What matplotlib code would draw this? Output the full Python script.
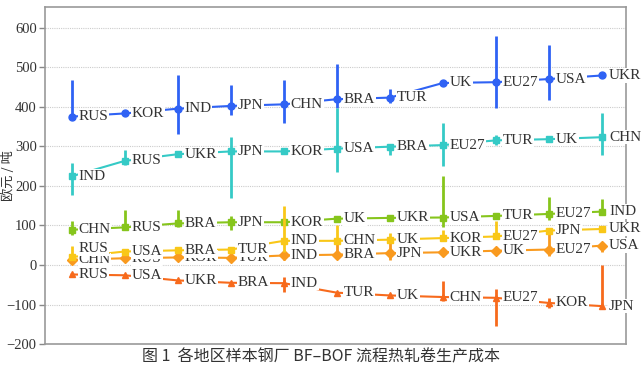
import matplotlib
matplotlib.use("Agg")
import matplotlib.pyplot as plt
import numpy as np

# ---------------- data ----------------
blue_labels = ["RUS", "KOR", "IND", "JPN", "CHN", "BRA", "TUR", "UK", "EU27", "USA", "UKR"]
blue_val = [375, 383, 395, 402, 406, 419, 423, 460, 462, 470, 479]
blue_lo = [375, 378, 331, 380, 360, 397, 410, 460, 396, 417, 479]
blue_hi = [468, 386, 481, 455, 468, 508, 445, 460, 579, 555, 479]

teal_labels = ["IND", "RUS", "UKR", "JPN", "KOR", "USA", "BRA", "EU27", "TUR", "UK", "CHN"]
teal_val = [224, 263, 280, 287, 287, 294, 299, 303, 315, 318, 323]
teal_lo = [177, 253, 280, 169, 287, 236, 278, 251, 304, 318, 278]
teal_hi = [257, 291, 280, 323, 287, 397, 299, 359, 329, 318, 384]

green_labels = ["CHN", "RUS", "BRA", "JPN", "KOR", "UK", "UKR", "USA", "TUR", "EU27", "IND"]
green_val = [89, 95, 105, 108, 108, 117, 119, 120, 124, 129, 135]
green_lo = [77, 95, 97, 89, 108, 117, 119, 97, 124, 114, 131]
green_hi = [110, 140, 140, 123, 108, 117, 119, 224, 124, 173, 167]

orange_labels = ["CHN", "RUS", "KOR", "TUR", "IND", "BRA", "JPN", "UKR", "UK", "EU27", "USA"]
orange_val = [13, 17, 19, 18, 24, 26, 30, 32, 36, 39, 49]
orange_lo = [10, 14, 16, 15, 13, 15, 13, 30, 33, 23, 34]
orange_hi = [16, 21, 22, 21, 34, 61, 64, 35, 39, 85, 57]

yellow_labels = ["RUS", "USA", "BRA", "TUR", "IND", "CHN", "UK", "KOR", "EU27", "JPN", "UKR"]
yellow_val = [20, 34, 37, 39, 61, 61, 64, 68, 72, 87, 91]
yellow_lo = [20, 28, 35, 37, 34, 61, 64, 68, 68, 87, 91]
yellow_hi = [49, 40, 40, 41, 150, 102, 81, 89, 110, 87, 91]

red_labels = ["RUS", "USA", "UKR", "BRA", "IND", "TUR", "UK", "CHN", "EU27", "KOR", "JPN"]
red_val = [-24, -26, -39, -45, -46, -70, -77, -81, -83, -96, -104]
red_lo = [-29, -30, -41, -47, -69, -72, -79, -92, -153, -108, -104]
red_hi = [-20, -22, -37, -43, -30, -68, -75, -41, -61, -83, 0]

y_ticks = [-200, -100, 0, 100, 200, 300, 400, 500, 600]
y_label = "欧元 / 吨"
caption = "图 1  各地区样本钢厂 BF–BOF 流程热轧卷生产成本"

# ---------------- style ----------------
series = [
    (blue_labels, blue_val, blue_lo, blue_hi, "#2f62f4", "o", {}),
    (teal_labels, teal_val, teal_lo, teal_hi, "#35cac6", "s", {}),
    (green_labels, green_val, green_lo, green_hi, "#86c51c", "s", {}),
    (orange_labels, orange_val, orange_lo, orange_hi, "#f99a1f", "D", {}),
    (yellow_labels, yellow_val, yellow_lo, yellow_hi, "#f9c718", "s", {0: 6}),
    (red_labels, red_val, red_lo, red_hi, "#f76a1c", "^", {}),
]

plt.rcParams['font.family'] = ['Liberation Serif', 'Noto Sans CJK SC']

fig = plt.figure(figsize=(6.43, 3.70), dpi=100)
ax = fig.add_axes([0.070, 0.070, 0.9035, 0.911])

x = np.arange(1, 12)
for k, (labs, val, lo, hi, col, mk, dys) in enumerate(series):
    z = 2 + k * 0.1
    ax.plot(x, val, color=col, lw=1.5, zorder=z)
    ax.vlines(x, lo, hi, color=col, lw=2.0, zorder=z + 0.02)
    ax.plot(x, val, ls='none', marker=mk, ms=5, color=col, zorder=z + 0.04)
for k, (labs, val, lo, hi, col, mk, dys) in enumerate(series):
    for i, (xi, v, lab) in enumerate(zip(x, val, labs)):
        ax.annotate(lab, (xi, v), xytext=(5, dys.get(i, 0)), textcoords='offset points',
                    ha='left', va='center', fontsize=11, color='#333333',
                    family='Liberation Serif', zorder=5 + k * 0.1,
                    bbox=dict(boxstyle='square,pad=0.05', fc='white', ec='none'))

ax.set_xlim(0.5, 11.45)
ax.set_ylim(-200, 652)
ax.set_yticks(y_ticks)
ax.set_yticklabels([str(t).replace('-', '\u2212') for t in y_ticks], fontsize=10.5,
                   color='#333333', family='Liberation Serif')
ax.set_xticks([])
ax.tick_params(axis='y', direction='out', length=4, color='#888888', width=1, pad=2)
for t in y_ticks[1:]:
    ax.axhline(t, color='#cccccc', lw=0.8, ls=(0, (1, 1)), zorder=1)
for s in ax.spines.values():
    s.set_color('#999999')
    s.set_linewidth(1.2)
ax.set_ylabel(y_label, family='Noto Sans CJK SC', fontsize=9.5, color='#333333')
ax.yaxis.set_label_coords(-0.052, 0.5)

fig.text(0.5, 0.035, caption, ha='center', va='center', fontsize=11.5,
         family='Noto Sans CJK SC', color='#333333')

fig.savefig("out.png", dpi=100)
